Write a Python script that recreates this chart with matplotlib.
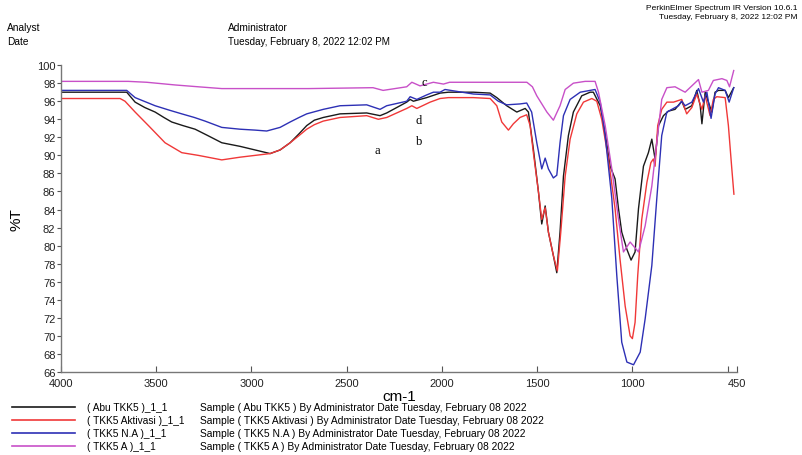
import matplotlib
matplotlib.use("Agg")
import matplotlib.pyplot as plt

# ---------------- data ----------------
abu_wn = [4000, 3700, 3655, 3611, 3560, 3506, 3460, 3419, 3360, 3296, 3230, 3156, 3060, 2981, 2902, 2850,
          2797, 2750, 2710, 2670, 2623, 2535, 2395,
          2325, 2290, 2185, 2167, 2150, 2080, 2010, 1966, 1835, 1747, 1712, 1660, 1607, 1563, 1546, 1520,
          1493, 1476, 1458, 1441, 1415, 1397, 1380, 1362, 1336, 1310, 1266, 1222, 1205, 1169, 1143, 1117,
          1091, 1073, 1056, 1029, 1007, 986, 968, 942, 916, 898, 881, 863, 837, 811, 776, 741, 723, 688,
          662, 644, 635, 618, 601, 583, 566, 548, 513, 496, 468]
abu_t = [97.0, 97.0, 97.0, 95.9, 95.3, 94.8, 94.2, 93.7, 93.3, 92.9, 92.2, 91.4, 91.0, 90.6, 90.2, 90.6,
         91.4, 92.4, 93.3, 93.9, 94.2, 94.6, 94.7,
         94.4, 94.7, 95.9, 96.2, 96.0, 96.4, 96.9, 97.0, 97.0, 96.9, 96.4, 95.5, 94.8, 95.2, 94.8, 90.7,
         85.9, 82.4, 84.4, 81.5, 78.9, 77.0, 81.5, 87.7, 92.2, 94.8, 96.6, 97.0, 97.0, 95.5, 92.5, 88.8,
         87.4, 84.1, 81.5, 79.6, 78.4, 79.3, 84.1, 88.8, 90.3, 91.8, 89.6, 93.3, 94.4, 94.9, 95.1, 96.0,
         95.1, 95.5, 97.2, 95.5, 93.5, 97.0, 95.9, 94.8, 97.0, 97.2, 97.2, 96.4, 97.5]

akt_wn = [4000, 3690, 3664, 3611, 3541, 3454, 3366, 3279, 3156, 3060, 2981, 2902, 2850, 2797, 2750, 2710,
          2670, 2623, 2535,
          2395, 2334, 2290, 2185, 2158, 2132, 2062, 2010, 1966, 1835, 1747, 1712, 1686, 1651, 1625, 1590,
          1555, 1537, 1520, 1493, 1476, 1458, 1441, 1415, 1394, 1376, 1353, 1327, 1292, 1257, 1213, 1187,
          1161, 1126, 1091, 1065, 1038, 1012, 1000, 986, 972, 951, 924, 903, 890, 881, 867, 846, 819, 784,
          741, 715, 688, 662, 635, 618, 592, 575, 557, 513, 496, 478, 467]
akt_t = [96.3, 96.3, 96.0, 94.8, 93.3, 91.4, 90.3, 90.0, 89.5, 89.8, 90.0, 90.2, 90.6, 91.4, 92.2, 92.9,
         93.4, 93.8, 94.2,
         94.4, 94.0, 94.2, 95.2, 95.5, 95.2, 95.9, 96.3, 96.4, 96.4, 96.3, 95.5, 93.7, 92.8, 93.5, 94.2,
         94.5, 93.3, 90.3, 85.9, 82.9, 84.2, 81.5, 78.9, 77.2, 81.5, 87.7, 91.8, 94.6, 95.9, 96.3, 96.0,
         94.0, 89.6, 84.1, 78.5, 73.3, 70.0, 69.7, 71.5, 76.7, 82.9, 87.0, 89.2, 89.6, 88.8, 93.3, 95.1,
         95.9, 95.9, 96.2, 94.6, 95.3, 96.8, 95.1, 96.6, 94.4, 96.2, 96.5, 96.4, 93.3, 88.5, 85.7]

na_wn = [4000, 3655, 3611, 3506, 3430, 3366, 3300, 3244, 3156, 3060, 2981, 2920, 2850, 2797, 2750, 2710,
         2623, 2535, 2395, 2325, 2290,
         2185, 2167, 2132, 2080, 2045, 2010, 1984, 1835, 1747, 1704, 1660, 1590, 1555, 1529, 1502, 1476,
         1458, 1441, 1415, 1397, 1380, 1362, 1327, 1274, 1222, 1196, 1169, 1143, 1108, 1082, 1056, 1029,
         994, 959, 933, 898, 872, 846, 819, 793, 758, 741, 723, 688, 653, 627, 609, 587, 566, 548, 513,
         492, 468]
na_t = [97.2, 97.2, 96.4, 95.5, 95.0, 94.6, 94.2, 93.8, 93.1, 92.9, 92.8, 92.7, 93.1, 93.7, 94.2, 94.6,
        95.1, 95.5, 95.6, 95.1, 95.5,
        96.0, 96.5, 96.2, 96.7, 97.0, 97.0, 97.3, 96.8, 96.7, 96.0, 95.6, 95.7, 95.8, 94.8, 91.4, 88.5,
        89.7, 88.5, 87.5, 87.8, 91.4, 94.4, 96.2, 97.0, 97.2, 97.3, 95.9, 92.2, 85.2, 76.7, 69.3, 67.1,
        66.8, 68.2, 71.9, 77.8, 85.2, 92.2, 94.8, 95.1, 95.5, 96.0, 95.5, 95.9, 97.4, 95.9, 97.0, 94.1,
        96.8, 97.5, 97.2, 95.9, 97.5]

a_wn = [4000, 3647, 3550, 3400, 3280, 3156, 2981, 2700, 2362, 2309, 2185, 2158, 2115, 2045, 1992, 1960,
        1554, 1525, 1502,
        1449, 1415, 1380, 1353, 1310, 1248, 1196, 1178, 1143, 1108, 1073, 1047, 1012, 968, 933, 898, 872,
        846, 819, 776, 741, 723, 688, 653, 635, 601, 575, 530, 504, 490, 468]
a_t = [98.2, 98.2, 98.1, 97.8, 97.6, 97.4, 97.4, 97.4, 97.5, 97.2, 97.6, 98.1, 97.7, 98.1, 97.9, 98.1,
       98.1, 97.6, 96.6,
       94.8, 93.9, 95.5, 97.3, 98.0, 98.2, 98.2, 97.0, 93.3, 88.5, 82.9, 79.3, 80.4, 79.3, 82.2, 86.6, 91.4,
       96.2, 97.5, 97.6, 97.2, 97.0, 97.7, 98.4, 97.0, 97.2, 98.3, 98.5, 98.3, 97.6, 99.4]

series_codes = ["( Abu TKK5 )_1_1", "( TKK5 Aktivasi )_1_1", "( TKK5 N.A )_1_1", "( TKK5 A )_1_1"]
series_desc = ["Sample ( Abu TKK5 ) By Administrator Date Tuesday, February 08 2022",
               "Sample ( TKK5 Aktivasi ) By Administrator Date Tuesday, February 08 2022",
               "Sample ( TKK5 N.A ) By Administrator Date Tuesday, February 08 2022",
               "Sample ( TKK5 A ) By Administrator Date Tuesday, February 08 2022"]
colors = ["#1a1a1a", "#f03838", "#2d30b5", "#c850c8"]

x_ticks = [4000, 3500, 3000, 2500, 2000, 1500, 1000, 500, 450]
x_tick_labels = ["4000", "3500", "3000", "2500", "2000", "1500", "1000", "", "450"]
y_ticks = list(range(66, 101, 2))

annotations = [("a", 2341, 90.6), ("b", 2120, 91.6), ("c", 2094, 98.1), ("d", 2120, 93.9)]

# ---------------- figure ----------------
plt.rcParams['font.family'] = ['Liberation Sans', 'DejaVu Sans']
fig = plt.figure(figsize=(8.03, 4.56), dpi=100)
ax = fig.add_axes([0.076, 0.182, 0.842, 0.673])

all_wn = [abu_wn, akt_wn, na_wn, a_wn]
all_t = [abu_t, akt_t, na_t, a_t]
for wn, t, c in zip(all_wn, all_t, colors):
    ax.plot(wn, t, color=c, lw=1.0)

ax.set_xlim(4000, 450)
ax.set_ylim(66, 100)
ax.set_xticks(x_ticks)
ax.set_xticklabels(x_tick_labels)
ax.set_yticks(y_ticks)
ax.tick_params(axis='x', direction='in', length=4, labelsize=8, colors='#555555', labelcolor='#222222', pad=4)
ax.tick_params(axis='y', direction='out', length=3, labelsize=8, colors='#555555', labelcolor='#222222', pad=1)
for s in ['top', 'right']:
    ax.spines[s].set_visible(False)
for s in ['left', 'bottom']:
    ax.spines[s].set_color('#777777')
    ax.spines[s].set_linewidth(1.0)

ax.set_xlabel("cm-1", fontsize=11, labelpad=1)
ax.set_ylabel("%T", fontsize=11, labelpad=10)

for lab, xw, yt in annotations:
    ax.text(xw, yt, lab, fontsize=9, family=['Liberation Serif', 'DejaVu Serif'], ha='center', va='center')

# header
fig.text(0.009, 0.938, "Analyst", fontsize=7.3, va='center')
fig.text(0.009, 0.908, "Date", fontsize=7.3, va='center')
fig.text(0.284, 0.938, "Administrator", fontsize=7.3, va='center')
fig.text(0.284, 0.908, "Tuesday, February 8, 2022 12:02 PM", fontsize=7.1, va='center')
fig.text(0.993, 0.982, "PerkinElmer Spectrum IR Version 10.6.1", fontsize=6, ha='right', va='center')
fig.text(0.993, 0.962, "Tuesday, February 8, 2022 12:02 PM", fontsize=6, ha='right', va='center')

# legend block
leg_y = [408, 421, 434, 447]
for yy, c, code, desc in zip(leg_y, colors, series_codes, series_desc):
    yf = 1 - yy / 456
    fig.add_artist(plt.Line2D([12 / 803, 75 / 803], [yf, yf], color=c, lw=1.2))
    fig.text(87 / 803, yf, code, fontsize=7.3, va='center')
    fig.text(200 / 803, yf, desc, fontsize=7.4, va='center')

fig.savefig("out.png", dpi=100)
